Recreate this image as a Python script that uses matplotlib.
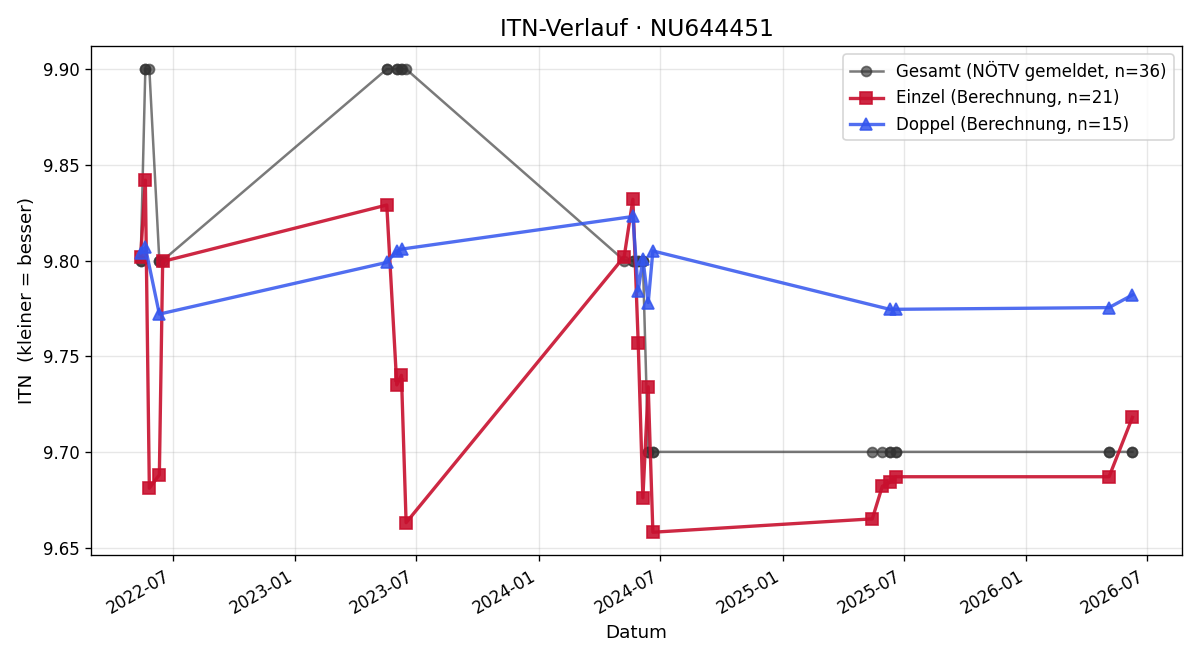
import matplotlib
matplotlib.use("Agg")
import matplotlib.pyplot as plt
import matplotlib.dates as mdates
import pandas as pd

# Einzel (single) matches
einzel_dates = [
    "2022-05-14", "2022-05-21", "2022-05-27", "2022-06-11", "2022-06-16",
    "2023-05-18", "2023-06-02", "2023-06-09", "2023-06-16",
    "2024-05-08", "2024-05-21", "2024-05-29", "2024-06-05", "2024-06-13", "2024-06-20",
    "2025-05-15", "2025-05-30", "2025-06-10", "2025-06-19",
    "2026-05-05", "2026-06-09",
]
einzel_itn = [
    9.802, 9.842, 9.681, 9.688, 9.7995,
    9.829, 9.735, 9.740, 9.663,
    9.802, 9.832, 9.757, 9.676, 9.734, 9.658,
    9.665, 9.682, 9.684, 9.687,
    9.687, 9.718,
]

# Doppel (double) matches
doppel_dates = [
    "2022-05-14", "2022-05-21", "2022-06-11",
    "2023-05-18", "2023-06-02", "2023-06-10",
    "2024-05-21", "2024-05-29", "2024-06-05", "2024-06-13", "2024-06-20",
    "2025-06-10", "2025-06-19",
    "2026-05-05", "2026-06-09",
]
doppel_itn = [
    9.804, 9.807, 9.772,
    9.799, 9.805, 9.806,
    9.823, 9.784, 9.801, 9.778, 9.805,
    9.7745, 9.7745,
    9.7754, 9.782,
]

# Gesamt (reported by NÖTV) at every match date
gesamt_dates = sorted(einzel_dates + doppel_dates)
gesamt_lookup = {
    "2022-05-14": 9.80, "2022-05-21": 9.90, "2022-05-27": 9.90,
    "2022-06-11": 9.80, "2022-06-16": 9.80,
    "2023-05-18": 9.90, "2023-06-02": 9.90, "2023-06-09": 9.90,
    "2023-06-10": 9.90, "2023-06-16": 9.90,
    "2024-05-08": 9.80, "2024-05-21": 9.80, "2024-05-29": 9.80,
    "2024-06-05": 9.80, "2024-06-13": 9.70, "2024-06-20": 9.70,
    "2025-05-15": 9.70, "2025-05-30": 9.70, "2025-06-10": 9.70,
    "2025-06-19": 9.70,
    "2026-05-05": 9.70, "2026-06-09": 9.70,
}
gesamt_itn = [gesamt_lookup[d] for d in gesamt_dates]

fig, ax = plt.subplots(figsize=(10, 5.5), dpi=120)

ax.plot(pd.to_datetime(gesamt_dates), gesamt_itn, marker="o", color="#333333",
        alpha=0.65, linewidth=1.5, markersize=6,
        label=f"Gesamt (NÖTV gemeldet, n={len(gesamt_itn)})")
ax.plot(pd.to_datetime(einzel_dates), einzel_itn, marker="s", color="#C8102E",
        alpha=0.9, linewidth=2, markersize=7,
        label=f"Einzel (Berechnung, n={len(einzel_itn)})")
ax.plot(pd.to_datetime(doppel_dates), doppel_itn, marker="^", color="#3355EE",
        alpha=0.85, linewidth=2, markersize=7,
        label=f"Doppel (Berechnung, n={len(doppel_itn)})")

ax.set_title("ITN-Verlauf · NU644451", fontsize=14)
ax.set_xlabel("Datum", fontsize=11)
ax.set_ylabel("ITN  (kleiner = besser)", fontsize=11)
ax.grid(True, alpha=0.3)
ax.legend(loc="upper right")

ax.xaxis.set_major_locator(mdates.MonthLocator(bymonth=[1, 7]))
ax.xaxis.set_major_formatter(mdates.DateFormatter("%Y-%m"))
fig.autofmt_xdate()

fig.tight_layout()
fig.savefig("out.png", dpi=120)
